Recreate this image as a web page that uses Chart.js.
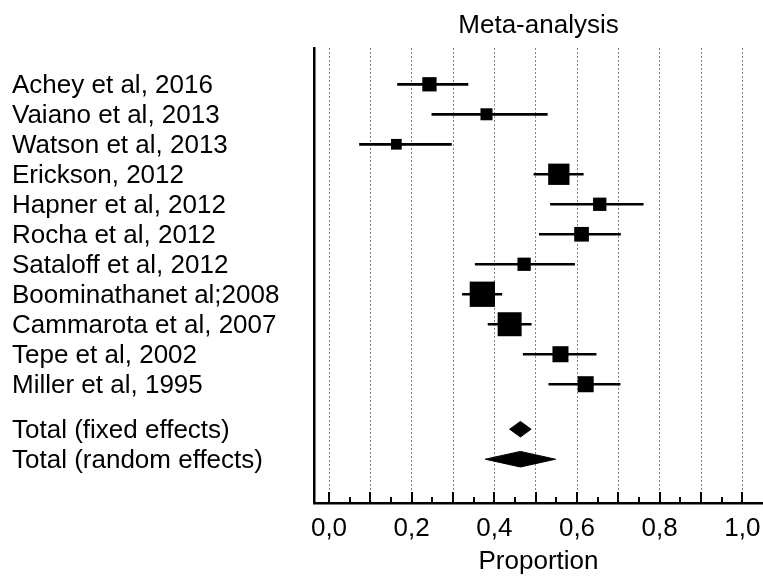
<!DOCTYPE html>
<html>
<head>
<meta charset="utf-8">
<title>Meta-analysis</title>
<script src="https://cdn.jsdelivr.net/npm/chart.js@4/dist/chart.umd.min.js"></script>
<style>
  html, body { margin: 0; padding: 0; background: #fff; }
  #wrap { width: 763px; height: 576px; }
</style>
</head>
<body>
<div id="wrap"><canvas id="forest" width="763" height="576"></canvas></div>
<script>
// Data
const studies = [
    'Achey et al, 2016', 'Vaiano et al, 2013', 'Watson et al, 2013', 'Erickson, 2012',
    'Hapner et al, 2012', 'Rocha et al, 2012', 'Sataloff et al, 2012', 'Boominathanet al;2008',
    'Cammarota et al, 2007', 'Tepe et al, 2002', 'Miller et al, 1995'
];
const proportion = [0.243, 0.381, 0.163, 0.556, 0.655, 0.611, 0.472, 0.371, 0.437, 0.560, 0.621];
const ciLow      = [0.165, 0.248, 0.073, 0.495, 0.535, 0.508, 0.353, 0.322, 0.384, 0.469, 0.531];
const ciHigh     = [0.337, 0.529, 0.297, 0.616, 0.761, 0.706, 0.595, 0.419, 0.490, 0.647, 0.705];
const weights    = [6.35, 4.48, 3.55, 14.1, 5.5, 6.7, 5.5, 19.9, 17.9, 8.0, 8.0]; // % weight

const totals     = ['Total (fixed effects)', 'Total (random effects)'];
const totalEst   = [0.463, 0.463];
const totalLow   = [0.437, 0.378];
const totalHigh  = [0.489, 0.548];

const xGridTicks  = [0, 0.1, 0.2, 0.3, 0.4, 0.5, 0.6, 0.7, 0.8, 0.9, 1.0];
const xTickLabels = ['0,0', '', '0,2', '', '0,4', '', '0,6', '', '0,8', '', '1,0'];
const xMinorTicks = [0.05, 0.15, 0.25, 0.35, 0.45, 0.55, 0.65, 0.75, 0.85, 0.95];

// row positions: studies 1..n, a gap, then the totals
const studyRows = studies.map((s, i) => i + 1);
const totalRows = totals.map((t, j) => studies.length + 1.5 + j);
const allRows = studyRows.concat(totalRows);
const allLabels = studies.concat(totals);

const FONT = "'Liberation Sans', Arial, sans-serif";
const SQUARE_SCALE = 5.67;   // px side per sqrt(% weight)
const DIAMOND_HALF = 0.26;   // half height of diamonds, in row units

// CI whiskers as one line dataset with gaps
const ciPoints = [];
studies.forEach((s, i) => {
    ciPoints.push({ x: ciLow[i], y: studyRows[i] });
    ciPoints.push({ x: ciHigh[i], y: studyRows[i] });
    ciPoints.push({ x: null, y: null });
});

const squarePoints = studies.map((s, i) => ({ x: proportion[i], y: studyRows[i] }));
const squareRadius = weights.map(w => SQUARE_SCALE * Math.sqrt(w) / Math.SQRT2);

const diamondSets = totals.map((t, j) => {
    const r = totalRows[j];
    return {
        type: 'line',
        data: [
            { x: totalLow[j], y: r },
            { x: totalEst[j], y: r - DIAMOND_HALF },
            { x: totalHigh[j], y: r },
            { x: totalEst[j], y: r + DIAMOND_HALF },
            { x: totalLow[j], y: r }
        ],
        showLine: true,
        fill: 'shape',
        backgroundColor: '#000',
        borderColor: '#000',
        borderWidth: 1,
        pointRadius: 0,
        tension: 0,
        order: 0
    };
});

// inward tick marks on the x axis
const innerTicks = {
    id: 'innerTicks',
    afterDatasetsDraw(chart) {
        const x = chart.scales.x;
        const ctx = chart.ctx;
        const base = chart.chartArea.bottom;
        ctx.save();
        ctx.strokeStyle = '#000';
        ctx.lineWidth = 2;
        const draw = (v, len) => {
            const px = Math.round(x.getPixelForValue(v));
            ctx.beginPath();
            ctx.moveTo(px, base);
            ctx.lineTo(px, base - len);
            ctx.stroke();
        };
        xGridTicks.forEach(v => draw(v, 11));
        xMinorTicks.forEach(v => draw(v, 6));
        ctx.restore();
    }
};

new Chart(document.getElementById('forest'), {
    type: 'scatter',
    data: {
        datasets: [
            {
                type: 'scatter',
                data: squarePoints,
                pointStyle: 'rect',
                pointRadius: squareRadius,
                pointHoverRadius: squareRadius,
                backgroundColor: '#000',
                borderColor: '#000',
                borderWidth: 0,
                order: 0
            },
            {
                type: 'line',
                data: ciPoints,
                showLine: true,
                spanGaps: false,
                borderColor: '#000',
                borderWidth: 2.7,
                pointRadius: 0,
                fill: false,
                order: 1
            },
            ...diamondSets
        ]
    },
    options: {
        responsive: false,
        animation: false,
        layout: { autoPadding: false, padding: { left: 12, right: 0, top: 0, bottom: 0 } },
        plugins: {
            legend: { display: false },
            tooltip: { enabled: false }
        },
        scales: {
            x: {
                type: 'linear',
                position: 'bottom',
                min: -0.0363,
                max: 1.050,
                afterBuildTicks: scale => { scale.ticks = xGridTicks.map(v => ({ value: v })); },
                afterFit: scale => {
                    scale.height = 73;
                    scale.paddingLeft = 0;
                    scale.paddingRight = 0;
                },
                ticks: {
                    autoSkip: false,
                    maxRotation: 0,
                    padding: 10,
                    color: '#000',
                    font: { family: FONT, size: 26 },
                    callback: (v, i) => xTickLabels[i]
                },
                grid: {
                    drawTicks: false,
                    color: '#808080',
                    lineWidth: 1
                },
                border: { display: true, color: '#000', width: 2.5, dash: [2, 2] },
                title: {
                    display: true,
                    text: 'Proportion',
                    color: '#000',
                    font: { family: FONT, size: 26, lineHeight: 1 },
                    padding: { top: 0, bottom: 1 }
                }
            },
            x2: {
                type: 'linear',
                position: 'top',
                afterFit: scale => {
                    scale.height = 48;
                    scale.paddingLeft = 0;
                    scale.paddingRight = 0;
                },
                ticks: { display: false },
                grid: { display: false, drawTicks: false },
                border: { display: false },
                title: {
                    display: true,
                    text: 'Meta-analysis',
                    color: '#000',
                    font: { family: FONT, size: 26, lineHeight: 1 },
                    padding: { top: 13, bottom: 0 }
                }
            },
            y: {
                type: 'linear',
                position: 'left',
                reverse: true,
                min: -0.21,
                max: 14.96,
                afterBuildTicks: scale => { scale.ticks = allRows.map(v => ({ value: v })); },
                afterFit: scale => {
                    scale.width = 302;
                    scale.paddingTop = 0;
                    scale.paddingBottom = 0;
                },
                ticks: {
                    autoSkip: false,
                    crossAlign: 'far',
                    padding: 0,
                    labelOffset: 1.5,
                    color: '#000',
                    font: { family: FONT, size: 26 },
                    callback: (v, i) => allLabels[i]
                },
                grid: { display: false, drawTicks: false },
                border: { display: true, color: '#000', width: 2.5 }
            }
        }
    },
    plugins: [innerTicks]
});
</script>
</body>
</html>
